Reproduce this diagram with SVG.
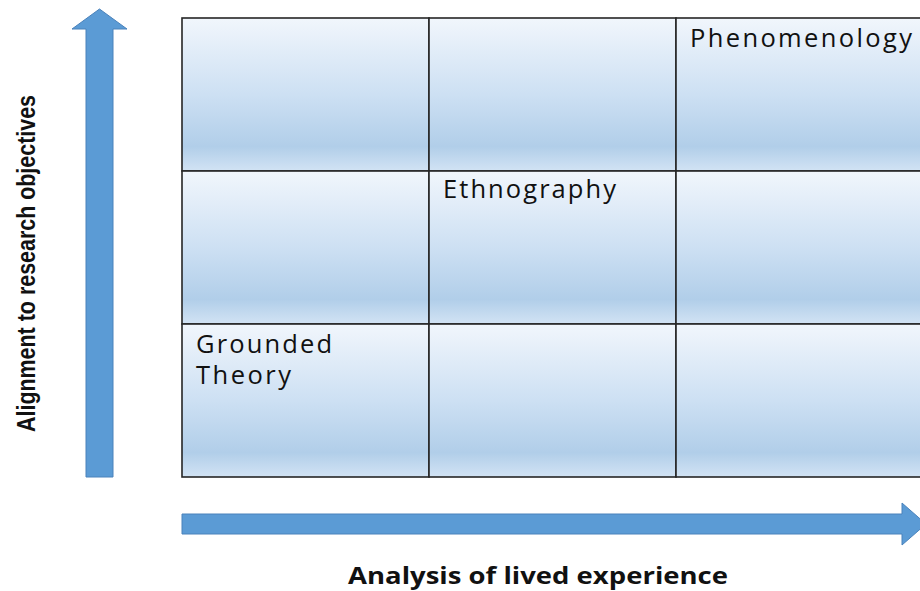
<svg xmlns="http://www.w3.org/2000/svg" width="920" height="591" viewBox="0 0 920 591">
<defs>
<linearGradient id="cellGrad" x1="0" y1="0" x2="0" y2="1">
<stop offset="0" stop-color="#f1f6fc"/>
<stop offset="0.5" stop-color="#cde0f3"/>
<stop offset="0.84" stop-color="#b1cee9"/>
<stop offset="1" stop-color="#d2e3f4"/>
</linearGradient>
<style>
.cell{fill:url(#cellGrad);stroke:#262626;stroke-width:1.6}
.arrow{fill:#5b9bd5;stroke:#4a82bb;stroke-width:1}
.lbl{font-family:"Open Sans","DejaVu Sans",sans-serif;font-size:25.5px;fill:#111}
.axis{font-family:"Open Sans","Liberation Sans",sans-serif;font-weight:bold;font-size:23px;fill:#111}
</style>
</defs>
<g id="grid">
<g id="cell-1-1"><rect class="cell" x="182" y="18" width="247" height="153"/></g>
<g id="cell-1-2"><rect class="cell" x="429" y="18" width="247" height="153"/></g>
<g id="cell-1-3"><rect class="cell" x="676" y="18" width="247" height="153"/><text class="lbl" x="690" y="47" textLength="222" lengthAdjust="spacing">Phenomenology</text></g>
<g id="cell-2-1"><rect class="cell" x="182" y="171" width="247" height="153"/></g>
<g id="cell-2-2"><rect class="cell" x="429" y="171" width="247" height="153"/><text class="lbl" x="443" y="198" textLength="173" lengthAdjust="spacing">Ethnography</text></g>
<g id="cell-2-3"><rect class="cell" x="676" y="171" width="247" height="153"/></g>
<g id="cell-3-1"><rect class="cell" x="182" y="324" width="247" height="153"/><text class="lbl" x="196" y="353" textLength="136" lengthAdjust="spacing">Grounded</text><text class="lbl" x="196" y="384" textLength="95" lengthAdjust="spacing">Theory</text></g>
<g id="cell-3-2"><rect class="cell" x="429" y="324" width="247" height="153"/></g>
<g id="cell-3-3"><rect class="cell" x="676" y="324" width="247" height="153"/></g>
</g>
<g id="connectors">
<polygon id="y-arrow" class="arrow" points="99.5,9 127,29 113,29 113,477 86,477 86,29 72,29"/>
<polygon id="x-arrow" class="arrow" points="182,514 902,514 902,503 926,524 902,545 902,534 182,534"/>
</g>
<g id="x-label"><text class="axis" x="348" y="584" textLength="380" lengthAdjust="spacingAndGlyphs">Analysis of lived experience</text></g>
<g id="y-label"><text transform="translate(35,432) rotate(-90)" x="0" y="0" textLength="337" lengthAdjust="spacingAndGlyphs" style="font-family:'Liberation Sans','Open Sans',sans-serif;font-weight:bold;font-size:26px;fill:#111">Alignment to research objectives</text></g>
</svg>
